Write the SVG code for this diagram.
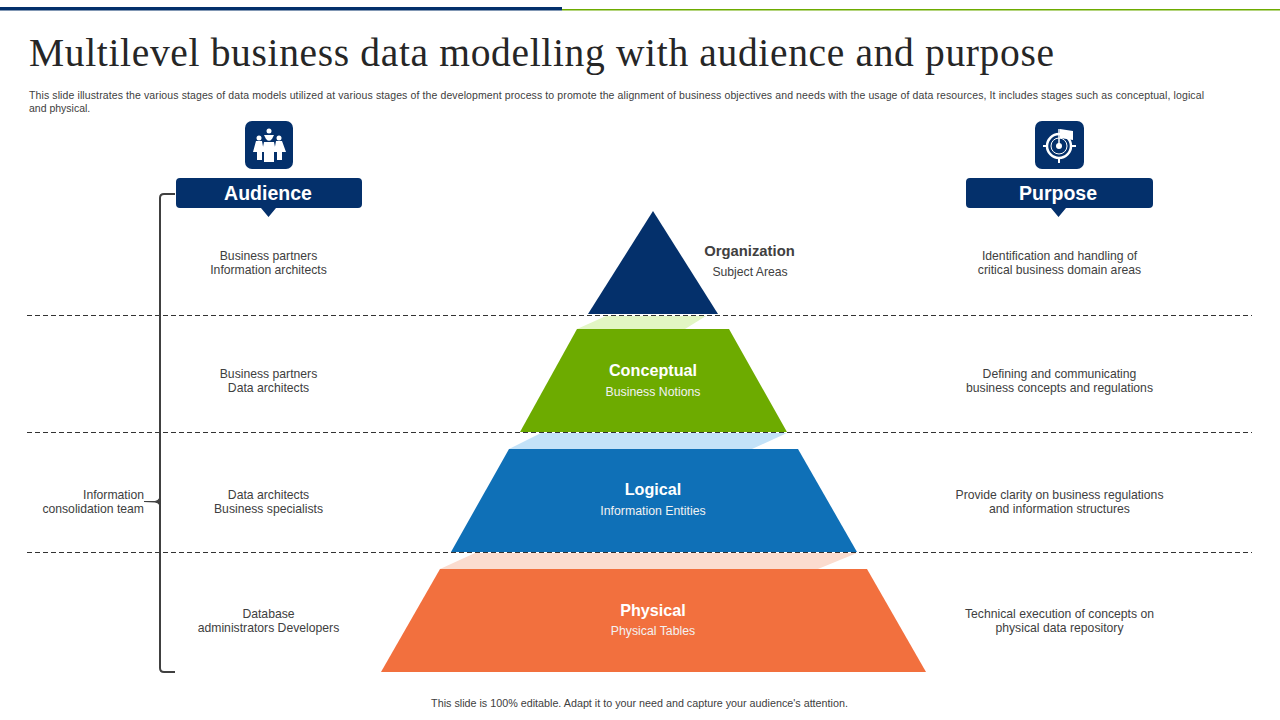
<svg xmlns="http://www.w3.org/2000/svg" width="1280" height="720" viewBox="0 0 1280 720">
<style>
text{font-family:"Liberation Sans",Arial,sans-serif}
.t{font-size:12.200px;fill:#404040;text-anchor:middle}
.h{font-size:19.500px;font-weight:bold;fill:#fff;text-anchor:middle}
.b{font-size:16.200px;font-weight:bold;fill:#fff;text-anchor:middle}
.s{font-size:12.300px;fill:#f2f2f2;text-anchor:middle}
.d{stroke:#333;stroke-width:1;stroke-dasharray:5 3;fill:none}
.n{fill:#04306b}
.w{fill:#fff}
</style>
<rect width="1280" height="720" fill="#fff"/>
<rect x="0" y="7" width="562" height="3.500" fill="#04306b"/>
<rect x="562" y="9" width="718" height="1.500" fill="#6dab00"/>
<text x="29" y="66" font-size="39.500" style="font-family:'Liberation Serif',serif" fill="#262626" textLength="1025" lengthAdjust="spacing">Multilevel business data modelling with audience and purpose</text>
<text x="29" y="99" font-size="10.500" fill="#404040" textLength="1175" lengthAdjust="spacing">This slide illustrates the various stages of data models utilized at various stages of the development process to promote the alignment of business objectives and needs with the usage of data resources, It includes stages such as conceptual, logical</text>
<text x="29" y="112" font-size="10.500" fill="#404040">and physical.</text>
<g id="connectors">
<path class="d" d="M27 315.500H1252M27 432.500H1252M27 552.500H1252"/>
<path d="M175 194H164Q160 194 160 198V668Q160 672 164 672H175" fill="none" stroke="#404040" stroke-width="2"/>
<path d="M144 501.500H155Q158 501.500 160 498V505Q158 502 155 502Z" fill="#404040" stroke="#404040" stroke-width="1.200"/>
</g>
<g id="audience-icon">
<rect x="245" y="121" width="48" height="48" rx="7" class="n"/>
<circle cx="269" cy="131" r="2.500" class="w"/>
<path class="w" d="M264 135H274L272 139H266Z"/>
<circle cx="259" cy="138" r="2.500" class="w"/><circle cx="279" cy="138" r="2.500" class="w"/><circle cx="269" cy="138" r="2.800" class="w"/>
<path class="w" d="M256 141H262L264 152H262V160H257V152H253Z"/>
<path class="w" d="M276 141H282L286 152H282V160H277V152H274Z"/>
<path class="w" d="M264 142H274L276 152H274V162H264V152H262Z"/>
</g>
<g id="purpose-icon">
<rect x="1035" y="121" width="49" height="48" rx="7" class="n"/>
<circle cx="1059" cy="146" r="12" fill="none" stroke="#fff" stroke-width="2.500"/>
<circle cx="1059" cy="146" r="8" fill="none" stroke="#fff" stroke-width="1"/>
<circle cx="1059" cy="146" r="3" class="w"/>
<path d="M1043 146H1047M1071 146H1076M1059 158V163" stroke="#fff" stroke-width="2" fill="none"/>
<path d="M1059 146V129" stroke="#fff" stroke-width="1.500"/>
<path class="w" d="M1060 129L1073 131V140L1060 138Z"/>
</g>
<g id="audience">
<path class="n" d="M180 178H358Q362 178 362 182V204Q362 208 358 208H276L268.500 217L261 208H180Q176 208 176 204V182Q176 178 180 178Z"/>
<text x="268" y="200" class="h">Audience</text>
</g>
<g id="purpose">
<path class="n" d="M970 178H1149Q1153 178 1153 182V204Q1153 208 1149 208H1066L1058.500 217L1051 208H970Q966 208 966 204V182Q966 178 970 178Z"/>
<text x="1058" y="200" class="h">Purpose</text>
</g>
<g id="band-green"><path fill="#e2f6c4" d="M577 329L606 316H706L685 329Z"/></g>
<g id="band-blue"><path fill="#c3e2f8" d="M509 449L541 433H787L752 449Z"/></g>
<g id="band-orange"><path fill="#fbdccf" d="M440 569L475 553H857L818 569Z"/></g>
<g id="organization">
<path class="n" d="M653 211L718 314H588Z"/>
<text x="749.500" y="256" font-size="14.800" font-weight="bold" fill="#404040" text-anchor="middle">Organization</text>
<text x="750" y="276" class="t">Subject Areas</text>
</g>
<g id="conceptual">
<path fill="#6dab00" d="M577 329H729L787 432H520Z"/>
<text x="653" y="376" class="b">Conceptual</text>
<text x="653" y="396" class="s">Business Notions</text>
</g>
<g id="logical">
<path fill="#0f70b7" d="M509 449H798L857 552H451Z"/>
<text x="653" y="495" class="b">Logical</text>
<text x="653" y="515" class="s">Information Entities</text>
</g>
<g id="physical">
<path fill="#f2703e" d="M440 569H867L926 672H381Z"/>
<text x="653" y="616" class="b">Physical</text>
<text x="653" y="635" class="s">Physical Tables</text>
</g>
<g id="audience-labels">
<text x="268.500" y="260" class="t">Business partners</text><text x="268.500" y="274" class="t">Information architects</text>
<text x="268.500" y="378" class="t">Business partners</text><text x="268.500" y="392" class="t">Data architects</text>
<text x="268.500" y="499" class="t">Data architects</text><text x="268.500" y="513" class="t">Business specialists</text>
<text x="268.500" y="618" class="t">Database</text><text x="268.500" y="632" class="t">administrators Developers</text>
</g>
<g id="team-label">
<text x="144" y="499" class="t" style="text-anchor:end">Information</text>
<text x="144" y="513" class="t" style="text-anchor:end">consolidation team</text>
</g>
<g id="purpose-labels">
<text x="1059.500" y="260" class="t">Identification and handling of</text><text x="1059.500" y="274" class="t">critical business domain areas</text>
<text x="1059.500" y="378" class="t">Defining and communicating</text><text x="1059.500" y="392" class="t">business concepts and regulations</text>
<text x="1059.500" y="499" class="t">Provide clarity on business regulations</text><text x="1059.500" y="513" class="t">and information structures</text>
<text x="1059.500" y="618" class="t">Technical execution of concepts on</text><text x="1059.500" y="632" class="t">physical data repository</text>
</g>
<text x="639.500" y="707" font-size="10.750" fill="#404040" text-anchor="middle">This slide is 100% editable. Adapt it to your need and capture your audience's attention.</text>
</svg>
